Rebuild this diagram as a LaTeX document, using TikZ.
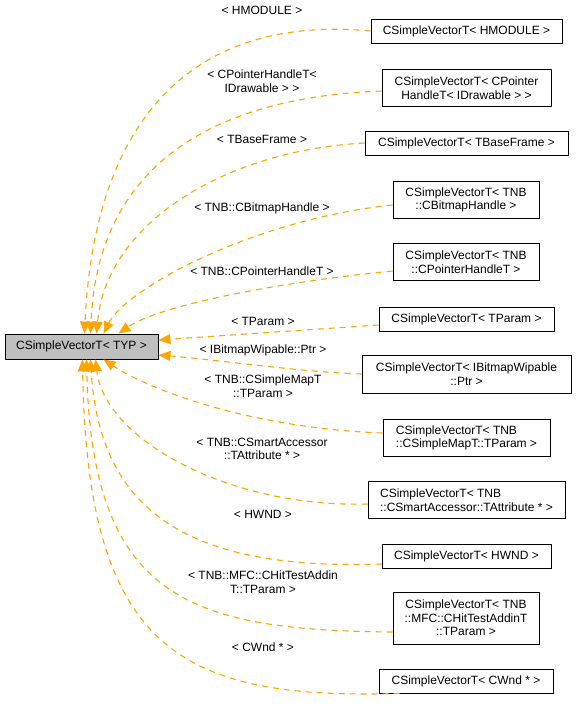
\documentclass[tikz,border=0pt]{standalone}
\usepackage{fontspec}
\setmainfont{Liberation Sans}
\usetikzlibrary{arrows.meta, positioning, calc}
\definecolor{edgeorange}{RGB}{255,165,0}
\definecolor{basegray}{RGB}{191,191,191}

\begin{document}
\begin{tikzpicture}[
    x=1pt, y=-1pt,
    box/.style={rectangle, draw=black, line width=0.9pt, fill=white, inner sep=0pt,
                minimum height=24pt, font=\fontsize{12}{13.5}\selectfont, align=center},
    lbl/.style={font=\fontsize{12}{13.5}\selectfont, align=center, inner sep=0pt},
    arr/.style={-{Triangle[length=12pt,width=10pt]}, line width=1.1pt, draw=edgeorange,
                dash pattern=on 6pt off 5pt}
  ]
  \useasboundingbox (0,0) rectangle (576,705);

  % base template
  \node[box, fill=basegray, minimum width=153pt, minimum height=25pt] (typ) at (81.5,346.5) {CSimpleVectorT< TYP >};

  % instantiations
  \node[box, minimum width=191pt] (hmodule) at (466.5,31) {CSimpleVectorT< HMODULE >};
  \node[box, minimum width=169pt, minimum height=37pt] (drawable) at (466.5,88) {CSimpleVectorT< CPointer\\HandleT< IDrawable > >};
  \node[box, minimum width=203pt] (baseframe) at (466.5,143) {CSimpleVectorT< TBaseFrame >};
  \node[box, minimum width=146pt, minimum height=37pt] (bitmaphandle) at (466,200) {CSimpleVectorT< TNB\\::CBitmapHandle >};
  \node[box, minimum width=146pt, minimum height=37pt] (pointerhandle) at (466,262) {CSimpleVectorT< TNB\\::CPointerHandleT >};
  \node[box, minimum width=175pt] (tparam) at (466.5,319) {CSimpleVectorT< TParam >};
  \node[box, minimum width=209pt, minimum height=38pt] (wipable) at (466.5,374) {CSimpleVectorT< IBitmapWipable\\::Ptr >};
  \node[box, minimum width=167pt, minimum height=37pt, align=left] (simplemap) at (466.5,438) {CSimpleVectorT< TNB\\::CSimpleMapT::TParam >};
  \node[box, minimum width=197pt, minimum height=37pt, align=left] (smartacc) at (466.5,500) {CSimpleVectorT< TNB\\::CSmartAccessor::TAttribute * >};
  \node[box, minimum width=169pt] (hwnd) at (466.5,556) {CSimpleVectorT< HWND >};
  \node[box, minimum width=146pt, minimum height=52pt] (hittest) at (466,618) {CSimpleVectorT< TNB\\::MFC::CHitTestAddinT\\::TParam >};
  \node[box, minimum width=174pt] (cwnd) at (466,681) {CSimpleVectorT< CWnd * >};

  % edges
  \draw[arr] (hmodule.west) .. controls (200,15) and (95,110) .. ([xshift=3pt]typ.north);
  \draw[arr] ([yshift=-3pt]drawable.west) .. controls (220,97) and (98,160) .. ([xshift=9pt]typ.north);
  \draw[arr] (baseframe.west) .. controls (230,150) and (107,220) .. ([xshift=15pt]typ.north);
  \draw[arr] ([yshift=-5pt]bitmaphandle.west) .. controls (250,220) and (125,290) .. ([xshift=22pt]typ.north);
  \draw[arr] ([yshift=-9pt]pointerhandle.west) .. controls (280,282) and (160,305) .. ([xshift=37pt]typ.north);
  \draw[arr] ([yshift=-6pt]tparam.west) -- ([yshift=6.5pt]typ.east);
  \draw[arr] (wipable.west) .. controls (300,372) and (220,360) .. ([yshift=-8.5pt]typ.east);
  \draw[arr] ([yshift=5pt]simplemap.west) .. controls (250,428) and (150,390) .. ([xshift=22pt]typ.south);
  \draw[arr] ([yshift=-4pt]smartacc.west) .. controls (230,508) and (105,440) .. ([xshift=14pt]typ.south);
  \draw[arr] ([yshift=-8pt]hwnd.west) .. controls (200,570) and (100,520) .. ([xshift=9pt]typ.south);
  \draw[arr] ([yshift=-14pt]hittest.west) .. controls (190,630) and (92,600) .. ([xshift=5pt]typ.south);
  \draw[arr] ([xshift=21pt]cwnd.south west) .. controls (180,700) and (87,650) .. ([xshift=1pt]typ.south);

  % edge labels
  \node[lbl] (l-hmodule) at (262,10) {< HMODULE >};
  \node[lbl] (l-drawable) at (262,81) {< CPointerHandleT<\\IDrawable > >};
  \node[lbl] (l-baseframe) at (262,139) {< TBaseFrame >};
  \node[lbl] (l-bitmaphandle) at (262,208) {< TNB::CBitmapHandle >};
  \node[lbl] (l-pointerhandle) at (262,271) {< TNB::CPointerHandleT >};
  \node[lbl] (l-tparam) at (263,321) {< TParam >};
  \node[lbl] (l-wipable) at (263,350) {< IBitmapWipable::Ptr >};
  \node[lbl] (l-simplemap) at (263,386) {< TNB::CSimpleMapT\\::TParam >};
  \node[lbl] (l-smartacc) at (262,449) {< TNB::CSmartAccessor\\::TAttribute * >};
  \node[lbl] (l-hwnd) at (263,514) {< HWND >};
  \node[lbl] (l-hittest) at (263,582) {< TNB::MFC::CHitTestAddin\\T::TParam >};
  \node[lbl] (l-cwnd) at (263,647) {< CWnd * >};
\end{tikzpicture}
\end{document}
